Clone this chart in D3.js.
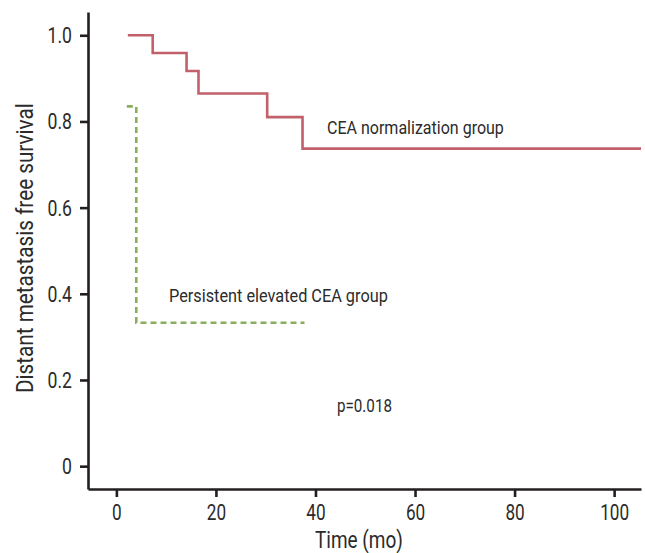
<!DOCTYPE html>
<html>
<head>
<meta charset="utf-8">
<script src="https://cdn.jsdelivr.net/npm/d3@7/dist/d3.min.js"></script>
<style>
  html, body { margin: 0; padding: 0; background: #fff; }
  svg { display: block; }
  text { font-family: Roboto, "Liberation Sans", sans-serif; fill: #2b2b2b; }
</style>
</head>
<body>
<svg id="chart" width="645" height="553"></svg>
<script>
// ---- data ----
const xTicks = [0, 20, 40, 60, 80, 100];
const yTicks = [0, 0.2, 0.4, 0.6, 0.8, 1.0];
const yTickLabels = ["0", "0.2", "0.4", "0.6", "0.8", "1.0"];

const normTimes = [2.3, 7.3, 14.1, 16.5, 30.3, 37.4, 105.4];
const normSurv  = [1.0, 0.959, 0.917, 0.865, 0.81, 0.737, 0.737];

const persTimes = [2.1, 4.0, 37.8];
const persSurv  = [0.835, 0.333, 0.333];

const labelNorm = "CEA normalization group";
const labelPers = "Persistent elevated CEA group";
const labelP = "p=0.018";
const xTitle = "Time (mo)";
const yTitle = "Distant metastasis free survival";

// ---- layout ----
const svg = d3.select("#chart");
const x = d3.scaleLinear().domain([-5.7, 105.4]).range([88, 641]);
const y = d3.scaleLinear().domain([-0.053, 1.054]).range([489, 12]);

const axisColor = "#231f20";
const red = "#c2606b";
const green = "#8aae5e";

function fitX(sel, w) {
  sel.each(function() {
    const t = d3.select(this);
    const len = this.getComputedTextLength();
    const s = w / len;
    const ax = +t.attr("x") || 0, ay = +t.attr("y") || 0;
    t.attr("transform", `translate(${ax},${ay}) scale(${s},1) translate(${-ax},${-ay})`);
  });
}

// lines
const line = d3.line().x(d => x(d[0])).y(d => y(d[1])).curve(d3.curveStepAfter);

svg.append("path")
  .datum(normTimes.map((t, i) => [t, normSurv[i]]))
  .attr("d", line)
  .attr("fill", "none").attr("stroke", red).attr("stroke-width", 2.6);

svg.append("path")
  .datum(persTimes.map((t, i) => [t, persSurv[i]]))
  .attr("d", line)
  .attr("fill", "none").attr("stroke", green).attr("stroke-width", 2.6)
  .attr("stroke-dasharray", "6,4");

// axes
const xAxis = svg.append("g").attr("transform", `translate(0,${y.range()[0]})`)
  .call(d3.axisBottom(x).tickValues(xTicks).tickSize(8).tickSizeOuter(0).tickPadding(6));
const yAxis = svg.append("g").attr("transform", `translate(${x.range()[0]},0)`)
  .call(d3.axisLeft(y).tickValues(yTicks).tickFormat((d, i) => yTickLabels[i]).tickSize(8).tickSizeOuter(0).tickPadding(7));

[xAxis, yAxis].forEach(g => {
  g.select(".domain").attr("stroke", axisColor).attr("stroke-width", 2.6);
  g.selectAll(".tick line").attr("stroke", axisColor).attr("stroke-width", 2.6);
  g.selectAll(".tick text").attr("font-size", 22).attr("font-family", "Roboto").attr("fill", "#2b2b2b");
});
xAxis.selectAll(".tick text").attr("dy", "0.71em").attr("y", 15)
  .attr("transform", "scale(0.78,1)");
yAxis.selectAll(".tick text").attr("x", -16).attr("dy", "0.34em")
  .attr("transform", "translate(-16,0) scale(0.8,1) translate(16,0)");

// annotations
svg.append("text").attr("x", 327).attr("y", 134).attr("font-size", 18).text(labelNorm).call(fitX, 177);
svg.append("text").attr("x", 169).attr("y", 302).attr("font-size", 18).text(labelPers).call(fitX, 219);
svg.append("text").attr("x", 337).attr("y", 412).attr("font-size", 18).text(labelP).call(fitX, 55);

// axis titles
svg.append("text").attr("x", 315).attr("y", 548).attr("font-size", 23).text(xTitle).call(fitX, 88);
svg.append("text").attr("transform", "translate(33,393) rotate(-90)")
  .attr("font-size", 23).text(yTitle)
  .each(function() {
    const len = this.getComputedTextLength();
    d3.select(this).attr("transform", `translate(33,393) rotate(-90) scale(${290/len},1)`);
  });
</script>
</body>
</html>
